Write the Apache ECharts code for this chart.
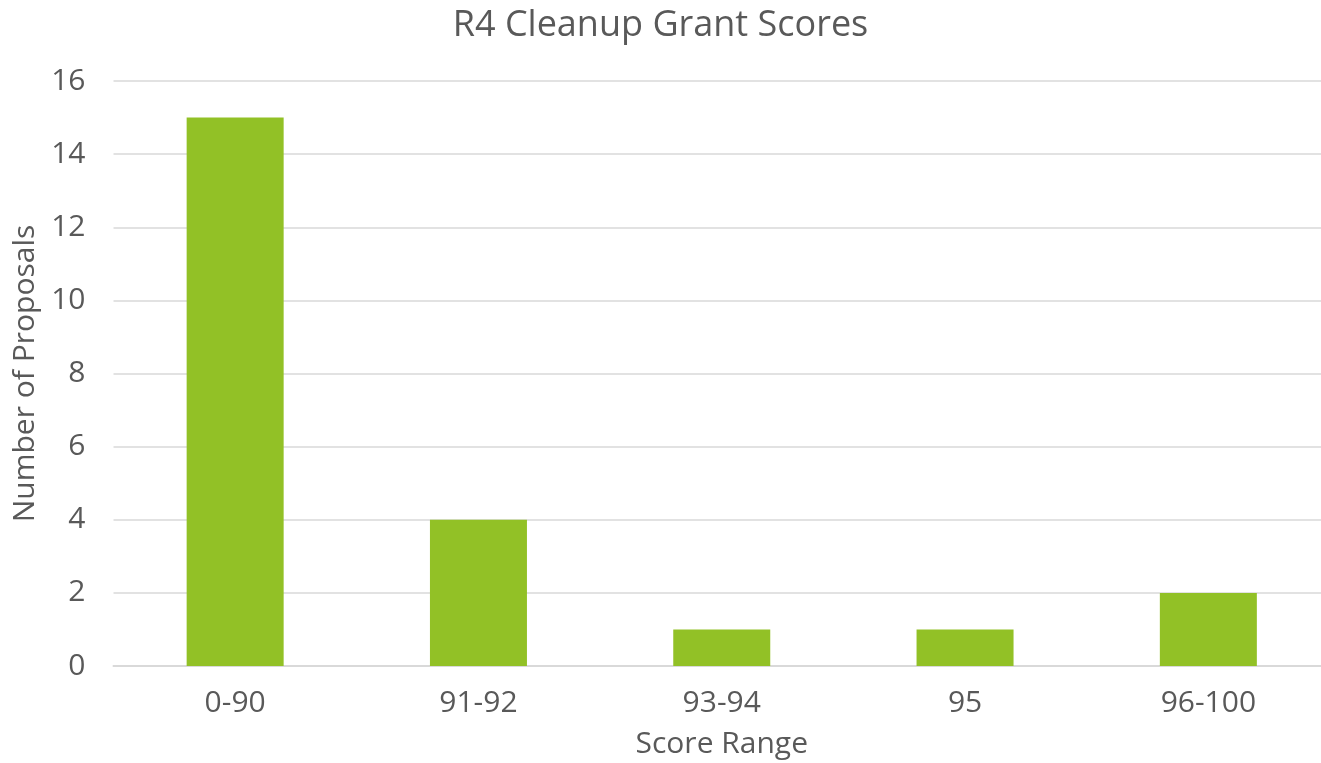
<!DOCTYPE html>
<html><head><meta charset="utf-8">
<script src="https://cdn.jsdelivr.net/npm/echarts@6/dist/echarts.min.js"></script>
<style>html,body{margin:0;padding:0;background:#fff}#c{width:1321px;height:763px}</style>
</head><body><div id="c"></div>
<script>
const categories = ['0-90', '91-92', '93-94', '95', '96-100'];
const proposals = [15, 4, 1, 1, 2];
const FONT = '"Open Sans", "DejaVu Sans", sans-serif';
const chart = echarts.init(document.getElementById('c'));
chart.setOption({
  animation: false,
  title: { text: 'R4 Cleanup Grant Scores', left: 'center', top: 3,
    textStyle: { fontFamily: FONT, fontSize: 36, fontWeight: 'normal', color: '#595959' } },
  grid: { left: 113.5, right: -9, top: 81, bottom: 97, outerBoundsMode: 'none', containLabel: false },
  xAxis: { type: 'category', data: categories,
    name: 'Score Range', nameLocation: 'middle', nameGap: 63,
    nameTextStyle: { fontFamily: FONT, fontSize: 30, color: '#595959' },
    axisLine: { lineStyle: { color: '#d9d9d9', width: 2 } }, axisTick: { show: false },
    axisLabel: { fontFamily: FONT, fontSize: 30, color: '#595959', margin: 22 } },
  yAxis: { type: 'value', min: 0, max: 16, interval: 2,
    name: 'Number of Proposals', nameLocation: 'middle', nameGap: 73,
    nameTextStyle: { fontFamily: FONT, fontSize: 30, color: '#595959' },
    axisLine: { show: false }, axisTick: { show: false },
    splitLine: { lineStyle: { color: '#d9d9d9', width: 1.5 } },
    axisLabel: { fontFamily: FONT, fontSize: 30, color: '#595959', margin: 28 } },
  series: [{ type: 'bar', data: proposals, barWidth: 97, itemStyle: { color: '#92c126' } }]
});
</script></body></html>
